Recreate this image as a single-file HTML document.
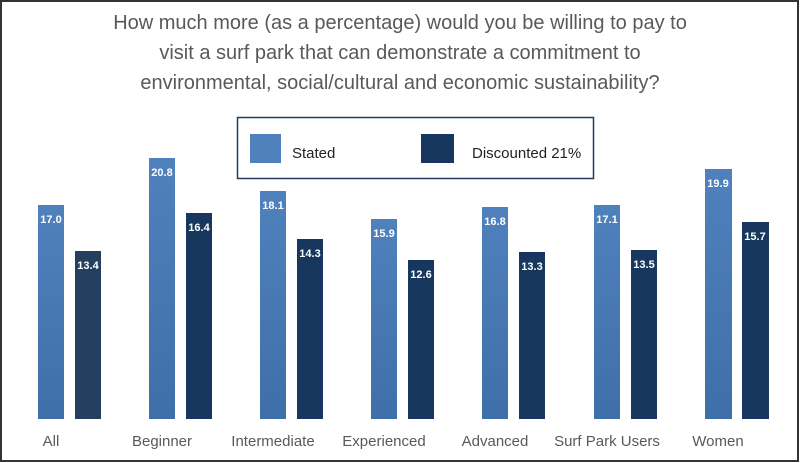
<!DOCTYPE html>
<html><head><style>
html,body{margin:0;padding:0;background:#fff}
svg{display:block}
text{font-family:"Liberation Sans",Arial,sans-serif}
</style></head><body>
<svg width="800" height="463" viewBox="0 0 800 463" xmlns="http://www.w3.org/2000/svg">
<defs>
<linearGradient id="g1" x1="0" y1="0" x2="0" y2="1"><stop offset="0" stop-color="#4f81bd"/><stop offset="1" stop-color="#3f6fa8"/></linearGradient>
</defs>
<rect x="1" y="1" width="797" height="460" fill="#fff" stroke="#333" stroke-width="2"/>
<g fill="#595959" font-size="20" text-anchor="middle">
<text x="400" y="29">How much more (as a percentage) would you be willing to pay to</text>
<text x="400" y="59">visit a surf park that can demonstrate a commitment to</text>
<text x="400" y="89">environmental, social/cultural and economic sustainability?</text>
</g>
<rect x="237.5" y="117.5" width="356" height="61" fill="#fff" stroke="#1f3a5c" stroke-width="1.5"/>
<rect x="250" y="134" width="31" height="29" fill="#4f81bd"/>
<text x="292" y="158" font-size="15" fill="#222">Stated</text>
<rect x="421" y="134" width="33" height="29" fill="#17375e"/>
<text x="472" y="158" font-size="15" fill="#222">Discounted 21%</text>
<g font-size="11" font-weight="bold" fill="#fff" text-anchor="middle">
<rect x="38" y="205" width="26" height="214" fill="url(#g1)"/><text x="51" y="223">17.0</text>
<rect x="75" y="251" width="26" height="168" fill="#243f60"/><text x="88" y="269">13.4</text>
<rect x="149" y="158" width="26" height="261" fill="url(#g1)"/><text x="162" y="176">20.8</text>
<rect x="186" y="213" width="26" height="206" fill="#17375e"/><text x="199" y="231">16.4</text>
<rect x="260" y="191" width="26" height="228" fill="url(#g1)"/><text x="273" y="209">18.1</text>
<rect x="297" y="239" width="26" height="180" fill="#17375e"/><text x="310" y="257">14.3</text>
<rect x="371" y="219" width="26" height="200" fill="url(#g1)"/><text x="384" y="237">15.9</text>
<rect x="408" y="260" width="26" height="159" fill="#17375e"/><text x="421" y="278">12.6</text>
<rect x="482" y="207" width="26" height="212" fill="url(#g1)"/><text x="495" y="225">16.8</text>
<rect x="519" y="252" width="26" height="167" fill="#17375e"/><text x="532" y="270">13.3</text>
<rect x="594" y="205" width="26" height="214" fill="url(#g1)"/><text x="607" y="223">17.1</text>
<rect x="631" y="250" width="26" height="169" fill="#17375e"/><text x="644" y="268">13.5</text>
<rect x="705" y="169" width="27" height="250" fill="url(#g1)"/><text x="718" y="187">19.9</text>
<rect x="742" y="222" width="27" height="197" fill="#17375e"/><text x="755" y="240">15.7</text>
</g>
<g font-size="15" fill="#595959" text-anchor="middle">
<text x="51" y="446">All</text>
<text x="162" y="446">Beginner</text>
<text x="273" y="446">Intermediate</text>
<text x="384" y="446">Experienced</text>
<text x="495" y="446">Advanced</text>
<text x="607" y="446">Surf Park Users</text>
<text x="718" y="446">Women</text>
</g>
</svg>
</body></html>
